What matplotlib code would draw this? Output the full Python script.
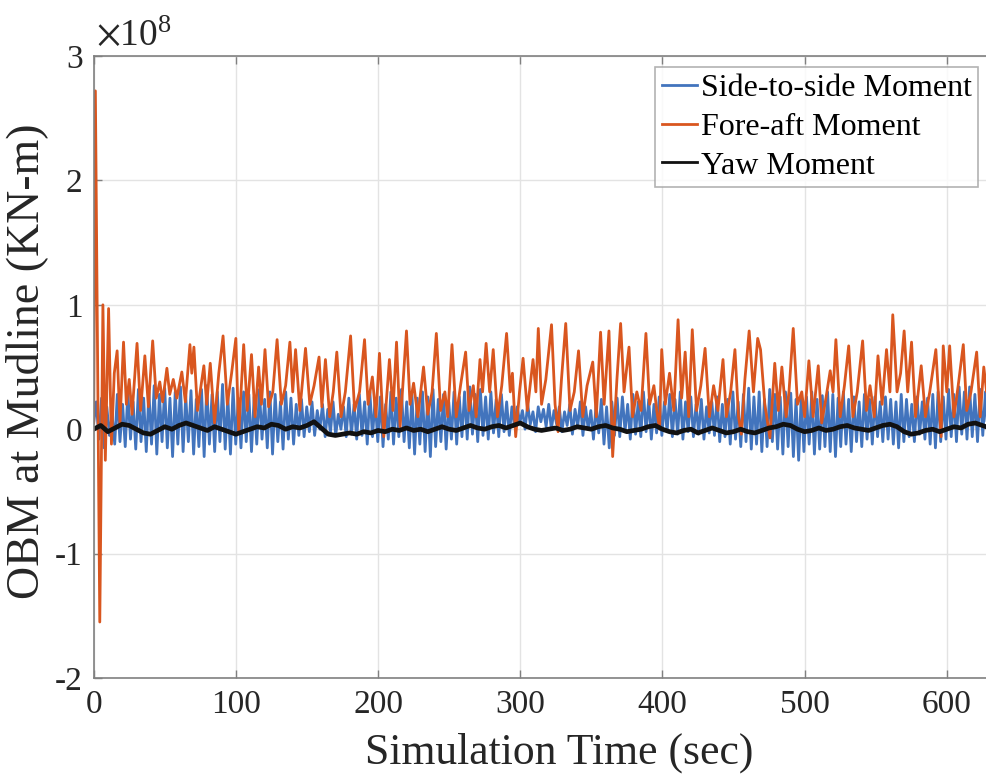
import numpy as np
import matplotlib
matplotlib.use("Agg")
import matplotlib.pyplot as plt
from matplotlib.ticker import FuncFormatter, MultipleLocator

plt.rcParams["font.family"] = ["Liberation Serif", "DejaVu Serif"]
plt.rcParams["mathtext.fontset"] = "stix"
plt.rcParams["axes.unicode_minus"] = False

SCALE = 1e8  # moments below are listed in units of 1e8 KN-m

# side-to-side moment, sampled every SS_DT seconds (alternating crests/troughs)
SS_DT = 1.85
side_to_side = [
    0.05, 0.22, -0.08, 0.25, -0.15, 0.18, -0.05, 0.12, -0.12, 0.28, -0.10, 0.20, -0.14, 0.30, -0.08, 0.22, -0.16, 0.32, -0.10, 0.25,
    -0.18, 0.30, -0.12, 0.35, -0.20, 0.28, -0.10, 0.33, -0.15, 0.25, -0.22, 0.30, -0.12, 0.34, -0.18, 0.27, -0.10, 0.31, -0.20, 0.24,
    -0.14, 0.32, -0.22, 0.35, -0.12, 0.28, -0.18, 0.30, -0.10, 0.36, -0.16, 0.27, -0.20, 0.33, -0.12, 0.25, -0.15, 0.30, -0.10, 0.28,
    -0.18, 0.26, -0.12, 0.32, -0.08, 0.24, -0.15, 0.30, -0.20, 0.28, -0.10, 0.22, -0.16, 0.30, -0.08, 0.25, -0.12, 0.20, -0.05, 0.24,
    -0.06, 0.18, -0.02, 0.22, -0.05, 0.15, 0.00, 0.20, -0.06, 0.16, -0.03, 0.22, -0.05, 0.12, 0.00, 0.18, -0.06, 0.25, -0.04, 0.20,
    -0.08, 0.28, -0.05, 0.22, -0.12, 0.30, -0.06, 0.24, -0.10, 0.26, -0.14, 0.20, -0.08, 0.30, -0.12, 0.25, -0.06, 0.32, -0.10, 0.22,
    -0.15, 0.28, -0.20, 0.25, -0.12, 0.30, -0.18, 0.26, -0.22, 0.32, -0.14, 0.24, -0.10, 0.28, -0.16, 0.22, -0.08, 0.30, -0.12, 0.26,
    -0.06, 0.30, -0.08, 0.34, -0.04, 0.28, -0.10, 0.32, -0.05, 0.26, -0.08, 0.30, -0.03, 0.24, -0.06, 0.28, -0.02, 0.22, -0.05, 0.18,
    0.02, 0.18, 0.05, 0.15, 0.00, 0.20, 0.04, 0.14, -0.02, 0.18, 0.06, 0.16, 0.02, 0.20, 0.00, 0.15, 0.04, 0.18, -0.02, 0.14,
    0.03, 0.20, -0.04, 0.16, 0.02, 0.22, -0.05, 0.18, 0.00, 0.15, -0.08, 0.20, -0.03, 0.24, -0.12, 0.18, -0.15, 0.22, -0.05, 0.25,
    -0.06, 0.26, -0.02, 0.20, -0.08, 0.28, -0.04, 0.22, -0.06, 0.30, -0.02, 0.24, -0.08, 0.20, -0.03, 0.26, -0.05, 0.22, -0.02, 0.28,
    -0.06, 0.24, -0.04, 0.30, -0.08, 0.22, -0.02, 0.26, -0.06, 0.20, -0.04, 0.24, -0.08, 0.18, -0.03, 0.22, -0.05, 0.26, -0.10, 0.20,
    -0.06, 0.24, -0.12, 0.30, -0.08, 0.22, -0.14, 0.28, -0.10, 0.33, -0.16, 0.26, -0.12, 0.30, -0.18, 0.24, -0.14, 0.32, -0.10, 0.28,
    -0.16, 0.26, -0.20, 0.30, -0.14, 0.29, -0.22, 0.24, -0.25, 0.28, -0.18, 0.26, -0.12, 0.30, -0.20, 0.24, -0.16, 0.27, -0.14, 0.30,
    -0.18, 0.28, -0.22, 0.25, -0.14, 0.30, -0.12, 0.24, -0.18, 0.26, -0.10, 0.22, -0.14, 0.28, -0.08, 0.24, -0.12, 0.26, -0.06, 0.22,
    -0.10, 0.26, -0.08, 0.24, -0.12, 0.22, -0.15, 0.28, -0.10, 0.24, -0.06, 0.20, -0.10, 0.26, -0.04, 0.22, -0.08, 0.25, -0.12, 0.28,
    -0.15, 0.30, -0.10, 0.26, -0.08, 0.32, -0.06, 0.28, -0.10, 0.34, -0.04, 0.30, -0.08, 0.34, -0.06, 0.28, -0.10, 0.32, -0.05, 0.30,
    -0.08, 0.26,
]

# fore-aft moment, listed as turning points (time in s, moment)
fore_aft_t = [
    0, 1.2, 4.3, 6.5, 8.2, 10.5, 12.5, 14.5, 16.5, 18.5, 21, 23, 25, 27, 30.5, 33, 36, 38.5, 41.5, 44,
    46.5, 48.5, 51.5, 53.5, 56, 58.5, 62, 64.5, 67.7, 69, 70.5, 73, 77.5, 79.5, 82, 85, 88, 91, 94, 97,
    100, 102, 105.5, 108, 111, 113.5, 116, 118, 120.5, 123, 126, 129, 132, 135, 138, 140, 142, 145, 149, 152,
    155, 158.5, 160.5, 163, 166, 168.5, 171, 174, 177, 180.7, 183.5, 187, 190.5, 193, 196, 198.5, 201, 204, 208, 210.5,
    213, 215.5, 218, 220, 222.5, 225, 228, 232, 235, 238, 241, 244, 247, 249, 252, 255, 258, 261.6, 264, 267,
    269, 271.7, 273.5, 276, 278.5, 281, 284, 287, 290.4, 293, 294.5, 296.8, 299.5, 302, 305, 309, 311, 312.7, 315, 318,
    322, 324.5, 326.6, 329, 332, 335, 338, 341, 344, 347, 351, 353.5, 356.5, 359, 362.4, 365, 368, 370.6, 373, 376.5,
    379, 382, 385, 388.4, 391, 394, 396, 398, 399.5, 402, 405, 408, 411, 413.5, 416, 418.5, 421, 424, 427, 430,
    433, 436, 439, 442.6, 445, 448, 451, 453.5, 455.5, 458, 461, 464, 467, 469, 472, 475.6, 479, 481.5, 484, 487,
    489, 492, 495, 498, 500, 503, 506, 509.6, 512, 515, 518, 520, 522, 525, 528, 531, 534, 537, 540.8, 543.5,
    546, 549, 551.6, 554.5, 557.6, 560, 562, 565, 567.5, 570, 572.5, 575.2, 578, 582, 585, 588, 592.3, 594, 596, 597.5,
    600, 602, 605, 608, 611.6, 614, 617, 621, 623.5, 626, 628, 632, 636,
]
fore_aft = [
    0.05, 2.72, -1.55, 1.00, -0.25, 0.97, -0.12, 0.45, 0.63, 0.05, 0.70, 0.20, 0.40, 0.12, 0.69, 0.15, 0.59, 0.18, 0.71, 0.25,
    0.38, 0.22, 0.49, 0.28, 0.40, 0.25, 0.46, 0.22, 0.68, 0.45, 0.66, 0.15, 0.51, 0.20, 0.53, 0.05, 0.45, 0.75, 0.20, 0.45,
    0.73, -0.03, 0.68, 0.15, 0.60, 0.10, 0.50, 0.20, 0.64, 0.18, 0.30, 0.72, 0.20, 0.35, 0.70, 0.30, 0.64, 0.15, 0.65, 0.20,
    0.35, 0.58, 0.18, 0.56, 0.10, 0.30, 0.62, 0.10, 0.30, 0.75, 0.15, 0.30, 0.72, 0.20, 0.42, 0.10, 0.61, -0.06, 0.56, 0.15,
    0.70, 0.02, 0.45, 0.79, 0.20, 0.37, 0.10, 0.50, 0.12, 0.30, 0.77, 0.15, 0.30, 0.10, 0.68, 0.10, 0.35, 0.62, 0.15, 0.35,
    0.10, 0.56, 0.30, 0.69, 0.30, 0.64, 0.10, 0.35, 0.77, 0.30, 0.45, -0.06, 0.30, 0.57, 0.15, 0.56, 0.30, 0.81, 0.20, 0.40,
    0.84, 0.20, -0.02, 0.40, 0.85, 0.15, 0.30, 0.63, 0.10, 0.35, 0.54, 0.10, 0.78, 0.20, 0.79, -0.22, 0.40, 0.85, 0.30, 0.66,
    0.10, 0.30, 0.15, 0.77, 0.20, 0.35, 0.15, 0.00, 0.64, 0.20, 0.45, 0.15, 0.88, 0.25, 0.62, 0.10, 0.80, 0.15, 0.35, 0.65,
    0.10, 0.35, 0.15, 0.56, 0.10, 0.30, 0.64, 0.10, -0.04, 0.40, 0.79, 0.30, 0.73, 0.64, 0.20, -0.07, 0.53, 0.15, 0.50, 0.10,
    0.30, 0.81, 0.20, 0.30, 0.10, 0.55, 0.10, 0.51, 0.05, 0.25, 0.47, 0.30, 0.72, 0.10, 0.35, 0.67, 0.10, 0.30, 0.71, 0.15,
    0.35, 0.10, 0.59, 0.20, 0.64, 0.30, 0.92, 0.30, 0.45, 0.79, 0.30, 0.70, 0.10, 0.51, 0.10, 0.30, 0.64, 0.30, -0.06, 0.67,
    0.30, 0.67, 0.10, 0.35, 0.68, 0.15, 0.30, 0.62, 0.10, 0.50, 0.30, 0.55, 0.20,
]

# yaw moment, sampled every YAW_DT seconds
YAW_DT = 5.0
yaw = [
    0.00, 0.03, -0.02, 0.01, 0.04, 0.03, 0.00, -0.03, -0.04, -0.01, 0.02, 0.00, 0.03, 0.05, 0.03, 0.01,
    -0.01, 0.02, 0.00, -0.02, -0.04, -0.02, 0.00, 0.02, 0.01, 0.04, 0.03, 0.00, 0.02, 0.01, 0.03, 0.06,
    0.01, -0.04, -0.05, -0.04, -0.03, -0.04, -0.02, -0.03, -0.01, -0.02, 0.00, -0.01, 0.01, -0.01, 0.00, -0.02,
    0.00, 0.02, 0.00, -0.01, 0.01, 0.03, 0.01, 0.00, 0.02, 0.03, 0.01, 0.03, 0.05, 0.02, 0.00, -0.01,
    0.00, 0.01, -0.01, 0.00, 0.02, 0.01, 0.00, 0.02, 0.03, 0.01, 0.00, -0.02, -0.01, 0.00, 0.02, 0.03,
    0.00, -0.02, -0.03, -0.01, 0.00, -0.03, -0.01, 0.01, -0.01, -0.03, -0.02, 0.00, -0.02, -0.03, -0.01, 0.01,
    0.02, 0.04, 0.03, 0.00, -0.02, -0.01, 0.01, -0.01, 0.00, 0.02, 0.03, 0.01, 0.00, -0.01, 0.01, 0.03,
    0.04, 0.02, -0.02, -0.04, -0.03, -0.01, 0.00, -0.02, 0.00, 0.02, 0.01, 0.04, 0.05, 0.03, 0.01, 0.00,
]

ss_t = np.arange(len(side_to_side)) * SS_DT
yaw_t = np.arange(len(yaw)) * YAW_DT

fig = plt.figure(figsize=(9.87, 7.76), dpi=100)
ax = fig.add_axes([0.0949, 0.1263, 0.922, 0.8015])

ax.plot(ss_t, np.array(side_to_side) * SCALE, color="#4274bd", lw=2.0, label="Side-to-side Moment")
ax.plot(fore_aft_t, np.array(fore_aft) * SCALE, color="#d9561f", lw=2.0, label="Fore-aft Moment")
ax.plot(yaw_t, np.array(yaw) * SCALE, color="#111111", lw=3.4, label="Yaw Moment")

ax.set_xlim(0, 640)
ax.set_ylim(-2e8, 3e8)
ax.xaxis.set_major_locator(MultipleLocator(100))
ax.yaxis.set_major_locator(MultipleLocator(SCALE))
# tick labels in units of 1e8, exponent written above the axis
ax.yaxis.set_major_formatter(FuncFormatter(lambda v, pos: f"{v / SCALE:g}"))
ax.text(0.003, 1.003, r"$\times\mathdefault{10^{8}}$", transform=ax.transAxes,
        fontsize=27, color="#262626", ha="left", va="bottom")

ax.grid(True, color="#e3e3e3", lw=1.0)
ax.set_axisbelow(True)
for side in ("left", "bottom", "top"):
    ax.spines[side].set_color("#808080")
    ax.spines[side].set_linewidth(1.2)
ax.tick_params(direction="in", length=6, width=1.0, color="#808080",
               labelsize=24, labelcolor="#262626", top=True, pad=8)

ax.set_xlabel("Simulation Time (sec)", fontsize=31.5, color="#262626")
ax.set_ylabel("OBM at Mudline (KN-m)", fontsize=33, color="#262626")
ax.xaxis.set_label_coords(0.512, -0.088, transform=ax.transAxes)
ax.yaxis.set_label_coords(-0.05, 0.51)

leg = ax.legend(loc="upper right", bbox_to_anchor=(978 / 987, 1 - 67 / 776),
                bbox_transform=fig.transFigure, fontsize=23, frameon=True,
                fancybox=False, borderaxespad=0, borderpad=0.2,
                handlelength=1.1, handletextpad=0.12, labelspacing=0.3)
leg.get_frame().set_edgecolor("#a0a0a0")
leg.get_frame().set_linewidth(1.2)
for line in leg.get_lines():
    line.set_linewidth(2.0)

fig.savefig("out.png", dpi=100)
